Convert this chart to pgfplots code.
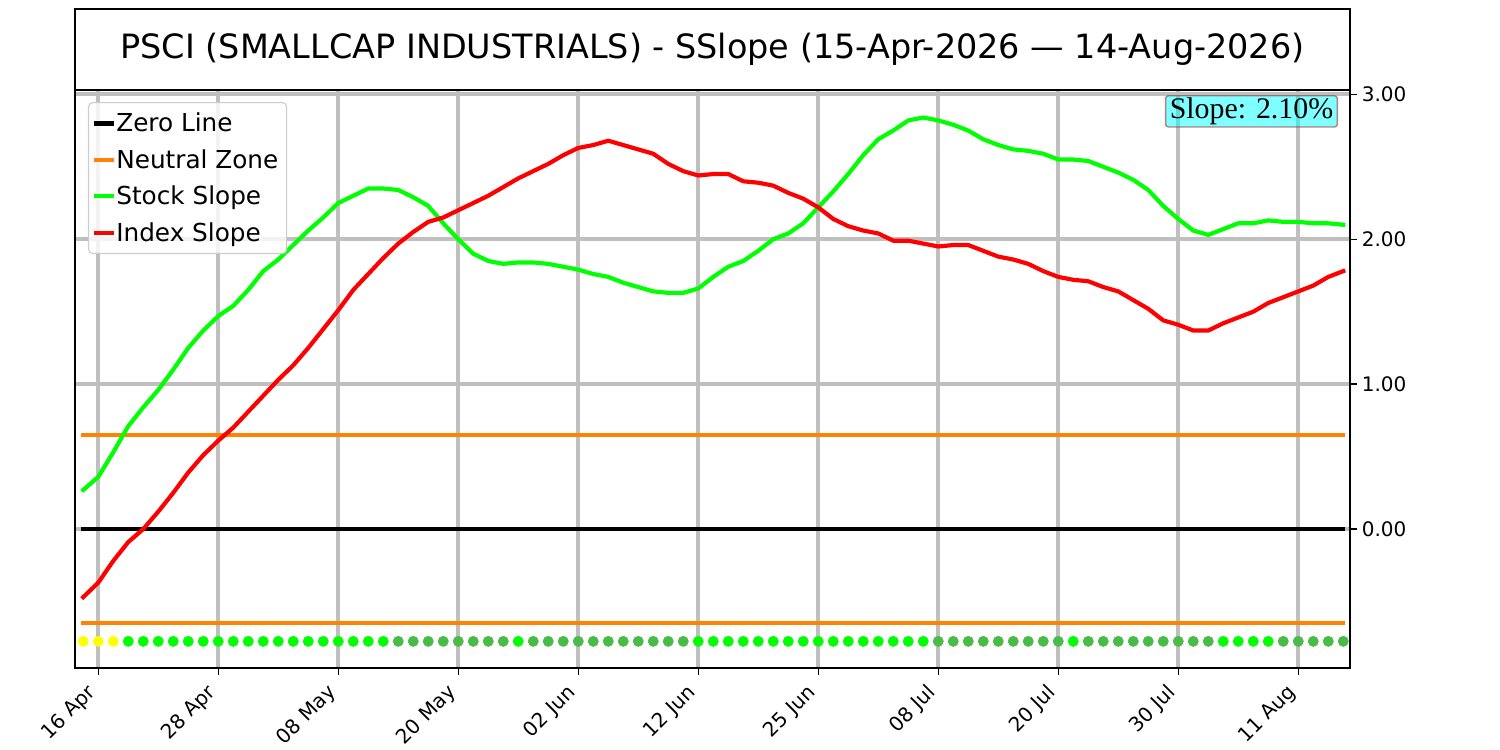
\documentclass[border=0pt]{standalone}
\usepackage{pgfplots}
\pgfplotsset{compat=1.18}
\usepackage{fontspec}
\setmainfont{DejaVu Sans}
\newfontfamily\slopefont{Liberation Serif}
\definecolor{cLime}{HTML}{00FF00}
\definecolor{cRed}{HTML}{FF0000}
\definecolor{cOrange}{HTML}{FF8200}
\definecolor{cDark}{HTML}{4BBB47}
\definecolor{cYellow}{HTML}{FFFF00}
\definecolor{cGrid}{HTML}{BFBFBF}
\definecolor{cCyan}{HTML}{00FFFF}
\definecolor{cBorder}{HTML}{A03030}
\begin{document}
\begin{tikzpicture}
\path[use as bounding box] (0,0) rectangle (1080bp,540bp);
\draw[line width=1.3bp] (54bp,475.2bp) rectangle (972bp,533.5bp);
\node[font=\fontsize{24.1bp}{28bp}\selectfont] at (513bp,504.4bp) {PSCI (SMALLCAP INDUSTRIALS) - SSlope (15-Apr-2026 — 14-Aug-2026)};
\begin{axis}[
  at={(54bp,59.04bp)}, anchor=south west,
  scale only axis, width=918bp, height=416.16bp,
  xmin=-0.55, xmax=84.45, ymin=-0.959, ymax=3.03,
  xtick={1,9,17,25,33,41,49,57,65,73,81},
  xticklabels={16 Apr,28 Apr,08 May,20 May,02 Jun,12 Jun,25 Jun,08 Jul,20 Jul,30 Jul,11 Aug},
  ytick={0,1,2,3},
  ytick pos=right, yticklabel pos=right, xtick pos=bottom,
  tick align=outside,
  major tick length=5bp,
  tick style={black, line width=1bp},
  grid=major,
  major grid style={line width=2.9bp, color=cGrid},
  axis line style={line width=1.2bp},
  /pgf/number format/assume math mode=true,
  y tick label style={/pgf/number format/.cd, fixed, fixed zerofill, precision=2},
  tick label style={font=\fontsize{14.4bp}{17bp}\selectfont},
  xticklabel style={xshift=-8.9bp, yshift=-2.7bp, rotate=45, anchor=north east, inner sep=2bp},
  legend cell align=left,
  legend image code/.code={\draw[#1] (0bp,0bp) -- (11bp,0bp);},
  legend style={at={(0.0102,0.979)}, anchor=north west,
    draw=black!20, line width=0.8bp, rounded corners=3bp,
    fill=white, fill opacity=0.8, text opacity=1,
    font=\fontsize{17.8bp}{21bp}\selectfont,
    inner xsep=4bp, inner ysep=5.5bp, row sep=7.2bp,
    /tikz/every even column/.append style={column sep=0bp}},
]
\addplot[black, line width=3bp, line cap=rect] coordinates {(0,0) (84,0)};
\addlegendentry{Zero Line}
\addplot[cOrange, line width=3bp, line cap=rect] coordinates {(0,0.65) (84,0.65)};
\addlegendentry{Neutral Zone}
\addplot[cOrange, line width=3bp, line cap=rect, forget plot] coordinates {(0,-0.65) (84,-0.65)};
\addplot[cLime, line width=3bp, line cap=rect, line join=round] coordinates {
(0,0.27) (1,0.36) (2,0.53) (3,0.71) (4,0.84) (5,0.96) (6,1.10) (7,1.25) (8,1.37) (9,1.47)
(10,1.54) (11,1.65) (12,1.78) (13,1.86) (14,1.96) (15,2.06) (16,2.15) (17,2.25) (18,2.30) (19,2.35)
(20,2.35) (21,2.34) (22,2.29) (23,2.23) (24,2.11) (25,2.00) (26,1.90) (27,1.85) (28,1.83) (29,1.84)
(30,1.84) (31,1.83) (32,1.81) (33,1.79) (34,1.76) (35,1.74) (36,1.70) (37,1.67) (38,1.64) (39,1.63)
(40,1.63) (41,1.66) (42,1.74) (43,1.81) (44,1.85) (45,1.92) (46,2.00) (47,2.04) (48,2.11) (49,2.22)
(50,2.33) (51,2.45) (52,2.58) (53,2.69) (54,2.75) (55,2.82) (56,2.84) (57,2.82) (58,2.79) (59,2.75)
(60,2.69) (61,2.65) (62,2.62) (63,2.61) (64,2.59) (65,2.55) (66,2.55) (67,2.54) (68,2.50) (69,2.46)
(70,2.41) (71,2.34) (72,2.23) (73,2.14) (74,2.06) (75,2.03) (76,2.07) (77,2.11) (78,2.11) (79,2.13)
(80,2.12) (81,2.12) (82,2.11) (83,2.11) (84,2.10)};
\addlegendentry{Stock Slope}
\addplot[cRed, line width=3bp, line cap=rect, line join=round] coordinates {
(0,-0.47) (1,-0.37) (2,-0.22) (3,-0.09) (4,0.00) (5,0.12) (6,0.25) (7,0.39) (8,0.51) (9,0.61)
(10,0.70) (11,0.81) (12,0.92) (13,1.03) (14,1.13) (15,1.25) (16,1.38) (17,1.51) (18,1.65) (19,1.76)
(20,1.87) (21,1.97) (22,2.05) (23,2.12) (24,2.15) (25,2.20) (26,2.25) (27,2.30) (28,2.36) (29,2.42)
(30,2.47) (31,2.52) (32,2.58) (33,2.63) (34,2.65) (35,2.68) (36,2.65) (37,2.62) (38,2.59) (39,2.52)
(40,2.47) (41,2.44) (42,2.45) (43,2.45) (44,2.40) (45,2.39) (46,2.37) (47,2.32) (48,2.28) (49,2.22)
(50,2.14) (51,2.09) (52,2.06) (53,2.04) (54,1.99) (55,1.99) (56,1.97) (57,1.95) (58,1.96) (59,1.96)
(60,1.92) (61,1.88) (62,1.86) (63,1.83) (64,1.78) (65,1.74) (66,1.72) (67,1.71) (68,1.67) (69,1.64)
(70,1.58) (71,1.52) (72,1.44) (73,1.41) (74,1.37) (75,1.37) (76,1.42) (77,1.46) (78,1.50) (79,1.56)
(80,1.60) (81,1.64) (82,1.68) (83,1.74) (84,1.78)};
\addlegendentry{Index Slope}
\addplot[only marks, mark=*, mark size=3.7bp, color=cYellow, line width=0.4bp, forget plot] coordinates {
(0,-0.775) (1,-0.775) (2,-0.775)};
\addplot[only marks, mark=*, mark size=3.7bp, color=cLime, line width=0.4bp, forget plot] coordinates {
(3,-0.775) (4,-0.775) (5,-0.775) (6,-0.775) (7,-0.775) (8,-0.775) (9,-0.775) (10,-0.775) (11,-0.775)
(12,-0.775) (13,-0.775) (14,-0.775) (15,-0.775) (16,-0.775) (17,-0.775) (18,-0.775) (19,-0.775) (20,-0.775)
(29,-0.775)
(41,-0.775) (42,-0.775) (43,-0.775) (44,-0.775) (45,-0.775) (46,-0.775) (47,-0.775) (48,-0.775)
(49,-0.775) (50,-0.775) (51,-0.775) (52,-0.775) (53,-0.775) (54,-0.775) (55,-0.775) (56,-0.775)
(66,-0.775)
(76,-0.775) (77,-0.775) (78,-0.775) (79,-0.775)};
\addplot[only marks, mark=*, mark size=3.7bp, color=cDark, line width=0.4bp, forget plot] coordinates {
(21,-0.775) (22,-0.775) (23,-0.775) (24,-0.775) (25,-0.775) (26,-0.775) (27,-0.775) (28,-0.775)
(30,-0.775) (31,-0.775) (32,-0.775) (33,-0.775) (34,-0.775) (35,-0.775) (36,-0.775) (37,-0.775)
(38,-0.775) (39,-0.775) (40,-0.775)
(57,-0.775) (58,-0.775) (59,-0.775) (60,-0.775) (61,-0.775) (62,-0.775) (63,-0.775) (64,-0.775) (65,-0.775)
(67,-0.775) (68,-0.775) (69,-0.775) (70,-0.775) (71,-0.775) (72,-0.775) (73,-0.775) (74,-0.775) (75,-0.775)
(80,-0.775) (81,-0.775) (82,-0.775) (83,-0.775) (84,-0.775)};
\node[anchor=north east, fill=cCyan, fill opacity=0.5, text opacity=1, draw=cBorder, draw opacity=0.6, line width=1bp,
  rounded corners=2bp, inner xsep=3bp, inner ysep=1.5bp,
  font=\slopefont\fontsize{21.5bp}{24bp}\selectfont] at (rel axis cs:0.9906,0.9913) {Slope: 2.10\%};
\end{axis}
\end{tikzpicture}
\end{document}
